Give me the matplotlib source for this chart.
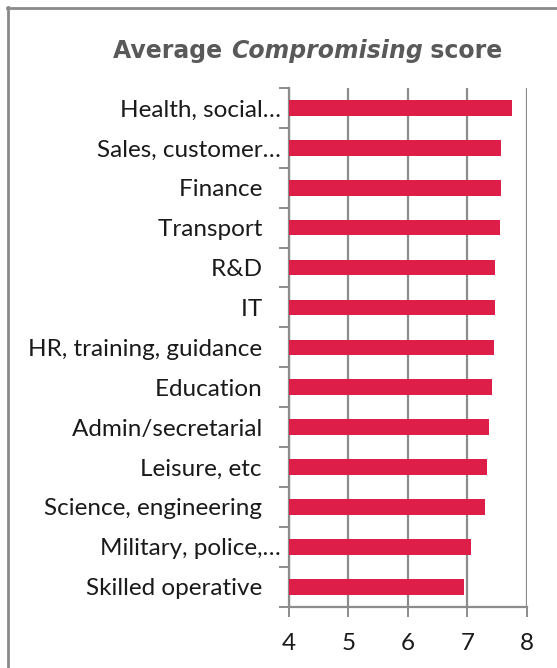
import matplotlib
matplotlib.use("Agg")
import matplotlib.pyplot as plt
from matplotlib.lines import Line2D

categories = [
    "Health, social\u2026",
    "Sales, customer\u2026",
    "Finance   ",
    "Transport   ",
    "R&D   ",
    "IT   ",
    "HR, training, guidance   ",
    "Education   ",
    "Admin/secretarial   ",
    "Leisure, etc   ",
    "Science, engineering   ",
    "Military, police,\u2026",
    "Skilled operative   ",
]
scores = [7.76, 7.57, 7.57, 7.55, 7.47, 7.46, 7.45, 7.41, 7.37, 7.33, 7.30, 7.06, 6.94]
x_ticks = [4, 5, 6, 7, 8]

BAR = "#dc1e48"
GRID = "#8c8c8c"
TEXT = "#1a1a1a"
TITLE = "#595959"
LABEL_FONT = ["Lato", "DejaVu Sans"]

fig = plt.figure(figsize=(5.57, 6.68), dpi=100)
ax = fig.add_axes([289 / 557, 1 - 606.7 / 668, (526.7 - 289) / 557, (606.7 - 88) / 668])

n = len(categories)
ypos = list(range(n))[::-1]
ax.barh(ypos, [s - 4 for s in scores], left=4, height=0.39, color=BAR, zorder=3)

ax.set_xlim(4, 8)
ax.set_ylim(-0.5, n - 0.5)
ax.set_xticks(x_ticks)
ax.set_xticklabels([str(t) for t in x_ticks], fontsize=17.5, family=LABEL_FONT, color=TEXT)
ax.xaxis.grid(True, color=GRID, linewidth=1.6, zorder=0)

# category ticks sit between bars; labels are centred on the bars
ax.set_yticks([i + 0.5 for i in range(-1, n)])
ax.set_yticklabels([])
ax.set_yticks(ypos, minor=True)
ax.set_yticklabels(categories, minor=True, fontsize=17.5, family=LABEL_FONT, color=TEXT)
ax.tick_params(axis="y", which="major", length=7, width=1.4, color=GRID, direction="out")
ax.tick_params(axis="y", which="minor", length=0, pad=6)
ax.tick_params(axis="x", which="major", length=7, width=1.4, color=GRID, direction="out", pad=12)

for side in ("top", "right"):
    ax.spines[side].set_visible(False)
for side in ("left", "bottom"):
    ax.spines[side].set_color(GRID)
    ax.spines[side].set_linewidth(1.6)

# title with an italic middle word
fig.canvas.draw()
renderer = fig.canvas.get_renderer()
parts = [("Average ", "normal"), ("Compromising", "italic"), (" score", "normal")]
texts = []
for s, style in parts:
    t = fig.text(0, 0, s, fontsize=17, fontweight="bold", style=style,
                 family="DejaVu Sans", color=TITLE, va="center", ha="left")
    texts.append(t)
widths = [t.get_window_extent(renderer).width for t in texts]
total = sum(widths)
figw = fig.get_figwidth() * fig.dpi
x0 = 308 / 557 - total / 2 / figw
yc = 1 - 51 / 668
for t, w in zip(texts, widths):
    t.set_position((x0, yc))
    x0 += w / figw

# frame around the chart area
fig.add_artist(Line2D([7.5 / 557, 7.5 / 557], [0, 1 - 7 / 668], transform=fig.transFigure,
                      color="#8a8a8a", linewidth=2))
fig.add_artist(Line2D([7 / 557, 1], [1 - 7.5 / 668, 1 - 7.5 / 668], transform=fig.transFigure,
                      color="#8a8a8a", linewidth=2))

fig.savefig("out.png", dpi=100)
